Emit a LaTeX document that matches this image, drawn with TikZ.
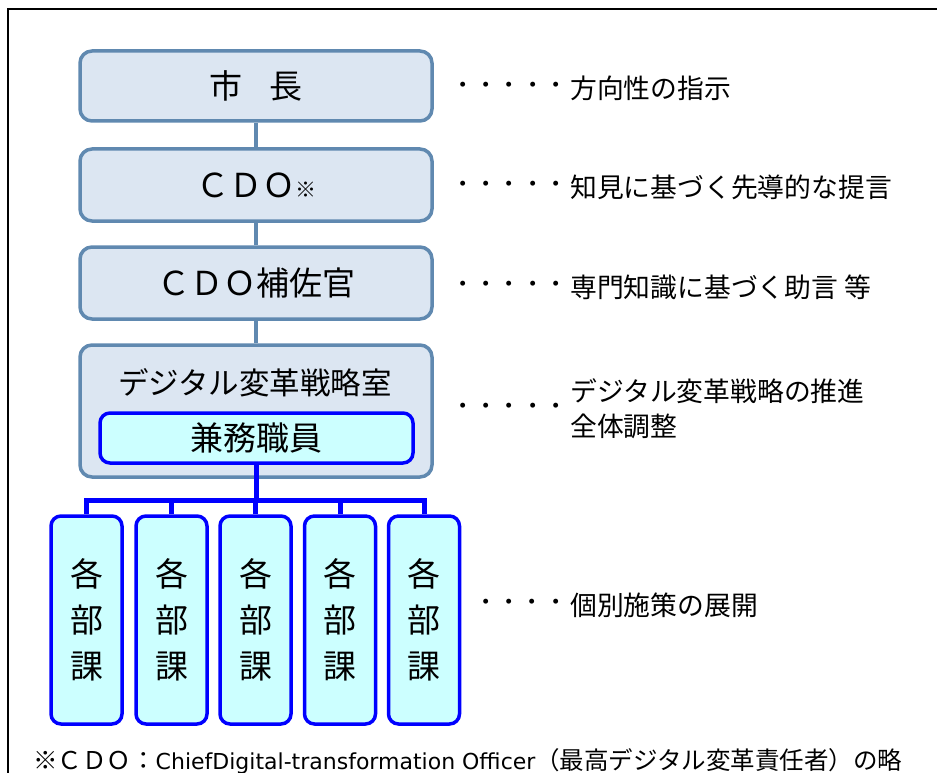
\documentclass[tikz,border=0pt]{standalone}
\usepackage{fontspec}
\setmainfont{Noto Sans CJK JP}
\newfontfamily\latfont{DejaVu Sans}
\definecolor{steel}{RGB}{96,137,176}
\definecolor{paleblue}{RGB}{220,230,242}
\definecolor{palecyan}{RGB}{204,255,255}
\definecolor{pureblue}{RGB}{0,0,255}
\tikzset{
  topbox/.style={draw=steel, fill=paleblue, line width=3.5pt, rounded corners=12pt,
    minimum width=352pt, inner sep=0pt, font=\fontsize{33}{38}\selectfont},
  cyanbox/.style={draw=pureblue, fill=palecyan, line width=3.5pt, rounded corners=10pt,
    inner sep=0pt},
  kabox/.style={cyanbox, minimum width=71pt, minimum height=208pt, align=center,
    font=\fontsize{33}{46}\selectfont},
  steelline/.style={draw=steel, line width=4pt},
  blueline/.style={draw=pureblue, line width=5pt},
  dots/.style={anchor=west, inner sep=0pt, font=\fontsize{23.3}{28}\selectfont},
  desc/.style={anchor=west, inner sep=0pt, align=left, font=\fontsize{26.8}{35}\selectfont},
}
\begin{document}
\begin{tikzpicture}[x=1pt,y=-1pt]
\useasboundingbox (0,0) rectangle (937,773);
\clip (0,0) rectangle (937,773);
\draw[line width=2pt] (950,9) -- (8,9) -- (8,790);

\node[topbox, minimum height=70pt] (shi) at (256,86) {市\hspace{0.8em}長};
\node[topbox, minimum height=72pt] (cdo) at (256,185) {ＣＤＯ{\fontsize{21}{21}\selectfont ※}};
\node[topbox, minimum height=72pt] (hosa) at (256,283) {ＣＤＯ補佐官};
\node[topbox, minimum height=132pt] (shitsu) at (256,411) {};
\node[inner sep=0pt, font=\fontsize{30.5}{38}\selectfont] (shitsulbl) at (255,383) {デジタル変革戦略室};
\node[cyanbox, minimum width=313pt, minimum height=50pt, font=\fontsize{33}{38}\selectfont] (kenmu) at (256.5,438) {兼務職員};

\draw[steelline] (shi.south) -- (cdo.north);
\draw[steelline] (cdo.south) -- (hosa.north);
\draw[steelline] (hosa.south) -- (shitsu.north);

\node[kabox] (ka1) at (86.5,620) {各\\部\\課};
\node[kabox] (ka2) at (171.5,620) {各\\部\\課};
\node[kabox] (ka3) at (255.5,620) {各\\部\\課};
\node[kabox] (ka4) at (340,620) {各\\部\\課};
\node[kabox] (ka5) at (424,620) {各\\部\\課};

\coordinate (bar) at (256,500);
\draw[blueline] (kenmu.south) -- (kenmu.south |- bar);
\draw[blueline, line join=miter] (ka1.north) -- (ka1.north |- bar) -- (ka5.north |- bar) -- (ka5.north);
\draw[blueline] (ka2.north) -- (ka2.north |- bar);
\draw[blueline] (ka4.north) -- (ka4.north |- bar);
\draw[blueline] (ka3.north) -- (ka3.north |- bar);

\node[dots] (d1) at (451,88) {・・・・・};
\node[desc] (t1) at (570,88) {方向性の指示};
\node[dots] (d2) at (451,187) {・・・・・};
\node[desc] (t2) at (570,187) {知見に基づく先導的な提言};
\node[dots] (d3) at (451,287) {・・・・・};
\node[desc] (t3) at (570,287) {専門知識に基づく助言 等};
\node[dots] (d4) at (451,409) {・・・・・};
\node[desc] (t4) at (570,409) {デジタル変革戦略の推進\\全体調整};
\node[dots] (d5) at (474,605) {・・・・};
\node[desc] (t5) at (570,605) {個別施策の展開};

\node[anchor=west, inner sep=0pt, font=\fontsize{24.5}{28}\selectfont] (foot) at (33,761)
  {※ＣＤＯ：{\latfont\fontsize{22}{28}\selectfont ChiefDigital-transformation Officer}（最高デジタル変革責任者）の略};
\end{tikzpicture}
\end{document}
